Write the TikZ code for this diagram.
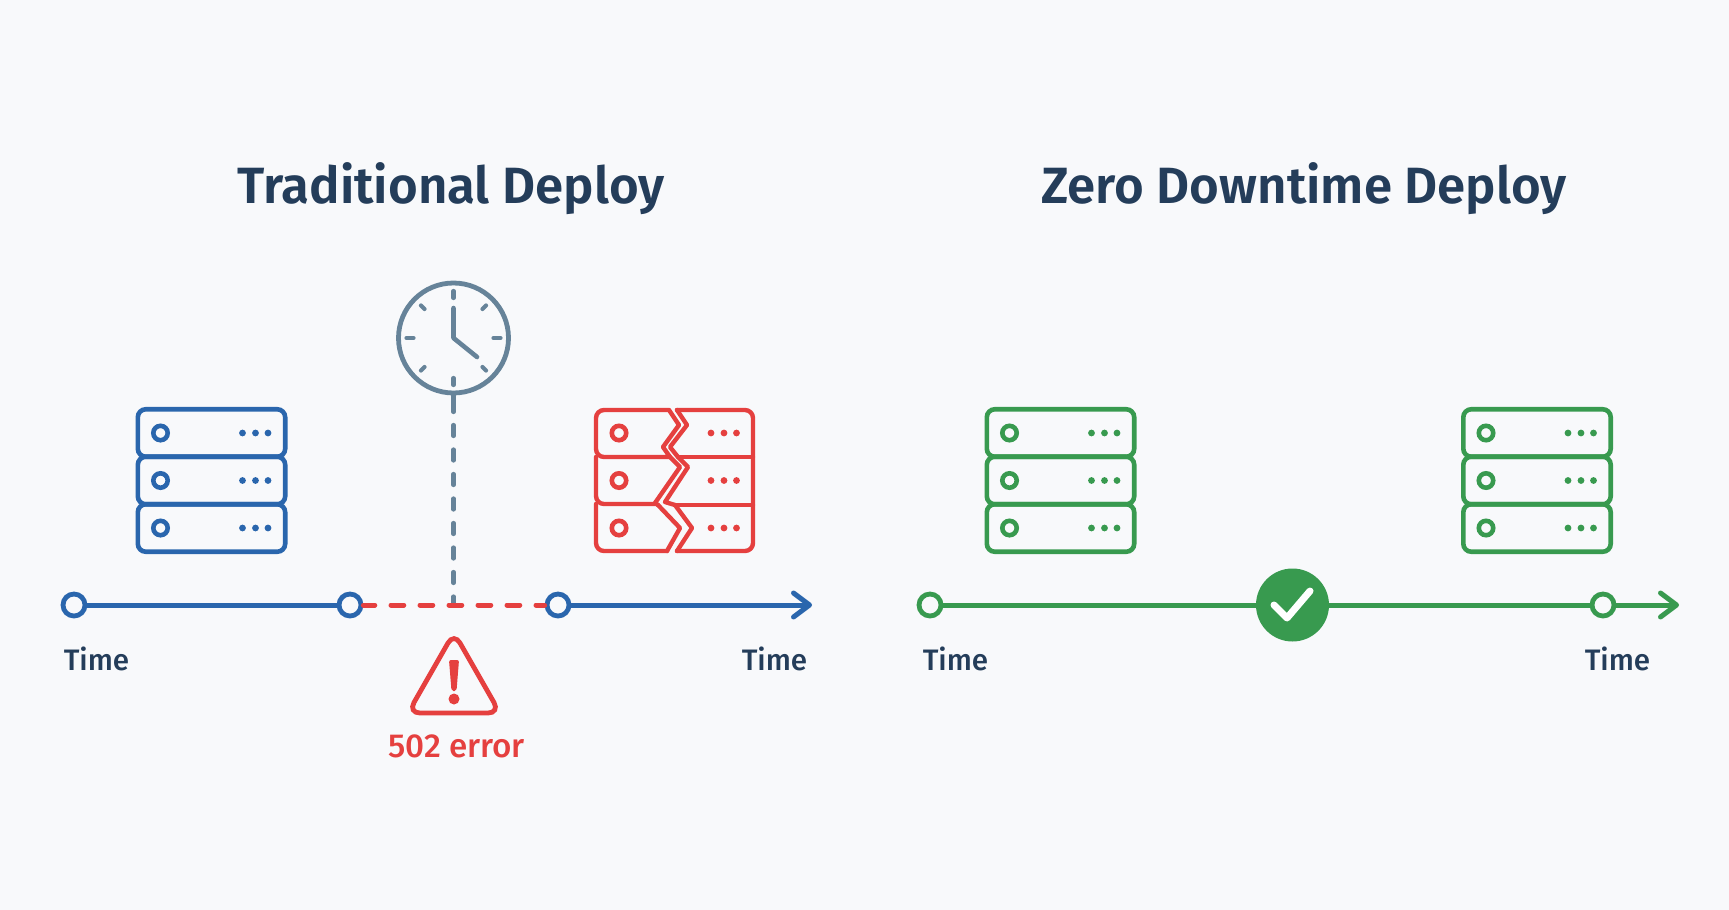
\documentclass[tikz,border=0pt]{standalone}
\usepackage{fontspec}
\setmainfont{Fira Sans}[BoldFont={Fira Sans SemiBold}]
\newfontfamily\medfont{Fira Sans Medium}
\usetikzlibrary{arrows.meta}
\definecolor{pagebg}{HTML}{F8F9FB}
\definecolor{inkdark}{HTML}{243D5A}
\definecolor{srvblue}{HTML}{2A66AD}
\definecolor{srvred}{HTML}{E5403F}
\definecolor{srvgreen}{HTML}{389A4F}
\definecolor{slate}{HTML}{668399}
\tikzset{
  rackrow/.style={draw=#1, rounded corners=4pt, line width=2.3pt, minimum width=73.7pt, minimum height=23.75pt, inner sep=0pt},
  rackled/.style={circle, draw=#1, line width=2.3pt, minimum size=7.2pt, inner sep=0pt},
  rackdot/.style={circle, fill=#1, minimum size=3.4pt, inner sep=0pt},
  rackdots/.pic={
    \foreach \x in {0,13,25.5}
      \node[rackdot=#1] (-d\x) at (\x,0) {};
  },
  serverrack/.pic={
    \foreach \r/\y in {1/25,2/72.5,3/120} {
      \node[rackrow=#1] (-r\r) at (75.5,\y) {};
      \node[rackled=#1] (-l\r) at (24.5,\y) {};
      \pic (-p\r) at (106.5,\y) {rackdots=#1};
    }
  },
  timedot/.style={circle, draw=#1, fill=pagebg, line width=2.4pt, minimum size=11pt, inner sep=0pt},
  timeline/.style={draw=#1, line width=2.5pt},
  timearrow/.style={timeline=#1, -{Straight Barb[round, length=8pt, width=12pt]}},
  timelabel/.style={anchor=base, text=inkdark, font=\medfont\fontsize{14.8}{16}\selectfont},
  headline/.style={anchor=base, text=inkdark, font=\fontsize{25.5}{30}\selectfont\bfseries},
  crack/.style={draw=srvred, line width=2.2pt, line join=round, line cap=round}
}
\begin{document}
\begin{tikzpicture}[x=.5pt, y=-.5pt]
  \fill[pagebg] (0,0) rectangle (1729,910);
  \useasboundingbox (0,0) rectangle (1729,910);

  \node[headline] (title1) at (451,203) {Traditional Deploy};
  \node[headline] (title2) at (1304,203) {Zero Downtime Deploy};

  \pic (blue) at (136,408) {serverrack=srvblue};
  \pic (green1) at (985,408) {serverrack=srvgreen};
  \pic (green2) at (1461.5,408) {serverrack=srvgreen};

  % broken rack, left half then right half
  \draw[crack] (669,410) [rounded corners=4pt] -- (596,410) -- (596,457) -- (670,457) [sharp corners]
    (669,410) -- (679,425) -- (663,447) -- (670,457);
  \draw[crack] (670,457) -- (680,467) -- (655,503) -- (658,505);
  \draw[crack, rounded corners=4pt] (655,504) -- (596,504) -- (596,457);
  \draw[crack] (658,505) -- (680,528) -- (667,551);
  \draw[crack, rounded corners=4pt] (667,551) -- (596,551) -- (596,504);
  \draw[crack] (677,410) -- (687,425) -- (670,447) -- (678,457) -- (688,467) -- (665,502) -- (675,505) -- (692,528) -- (677,551);
  \draw[crack, rounded corners=4pt] (677,410) -- (753,410) -- (753,551) -- (677,551);
  \draw[crack] (678,457) -- (753,457) (675,505) -- (753,505);
  \foreach \y in {433,480.5,528} {
    \node[rackled=srvred] (redl\y) at (619,\y) {};
    \pic (red\y) at (711,\y) {rackdots=srvred};
  }

  \node[circle, draw=slate, line width=2.4pt, minimum size=55pt, inner sep=0pt] (clock) at (453.5,338) {};
  \foreach \a in {0,90,180,270}
    \draw[slate, line width=2.1pt, line cap=round] (clock.center) ++(\a:40) -- ++(\a:7);
  \foreach \a in {45,135,225,315}
    \draw[slate, line width=2.1pt, line cap=round] (clock.center) ++(\a:41) -- ++(\a:5);
  \draw[slate, line width=2.3pt, line cap=round, line join=round] (453.5,308) -- (clock.center) -- (477,357);

  \node[timedot=srvblue] (b1) at (74,605) {};
  \node[timedot=srvblue] (b2) at (350,605) {};
  \node[timedot=srvblue] (b3) at (558,605) {};
  \coordinate (btip) at (812,605);
  \coordinate (bdrop) at (453.5,605);
  \coordinate (bstub) at (453.5,412);
  \draw[slate, line width=2.1pt, line cap=round] (clock.south) -- (bstub);
  \draw[slate, line width=2.1pt, line cap=round, dash pattern=on 5.5pt off 6.75pt, dash phase=5.75pt] (bstub) -- (bdrop);
  \draw[timeline=srvblue] (b1) -- (b2);
  \draw[timeline=srvred, line cap=round, dash pattern=on 6.4pt off 8.1pt, dash phase=.7pt] (b2) -- (b3);
  \draw[timearrow=srvblue] (b3) -- (btip);

  \node[timelabel] (lb1) at (96.5,670) {Time};
  \node[timelabel] (lb2) at (774.5,670) {Time};

  \draw[srvred, line width=2.4pt, rounded corners=6pt] (454,632.5) -- (500,713) -- (408,713) -- cycle;
  \fill[srvred, rounded corners=1pt] (449,660) -- (459,660) -- (456.5,691) -- (451.5,691) -- cycle;
  \fill[srvred] (454,699) circle (5.5);
  \node[anchor=base, text=srvred, font=\medfont\fontsize{16.6}{18}\selectfont] (err) at (456.5,757) {502 error};

  \node[timedot=srvgreen] (g1) at (930,605) {};
  \node[circle, fill=srvgreen, minimum size=36.5pt, inner sep=0pt] (ok) at (1292.5,605) {};
  \node[timedot=srvgreen] (g2) at (1603,605) {};
  \coordinate (gtip) at (1679,605);
  \draw[timeline=srvgreen] (g1) -- (ok);
  \draw[timeline=srvgreen] (ok) -- (g2);
  \draw[timearrow=srvgreen] (g2) -- (gtip);
  \draw[white, line width=3.5pt, line cap=round, line join=round] (1274,605) -- (1287,618) -- (1310,591);

  \node[timelabel] (lg1) at (955.5,670) {Time};
  \node[timelabel] (lg2) at (1617.5,670) {Time};
\end{tikzpicture}
\end{document}
